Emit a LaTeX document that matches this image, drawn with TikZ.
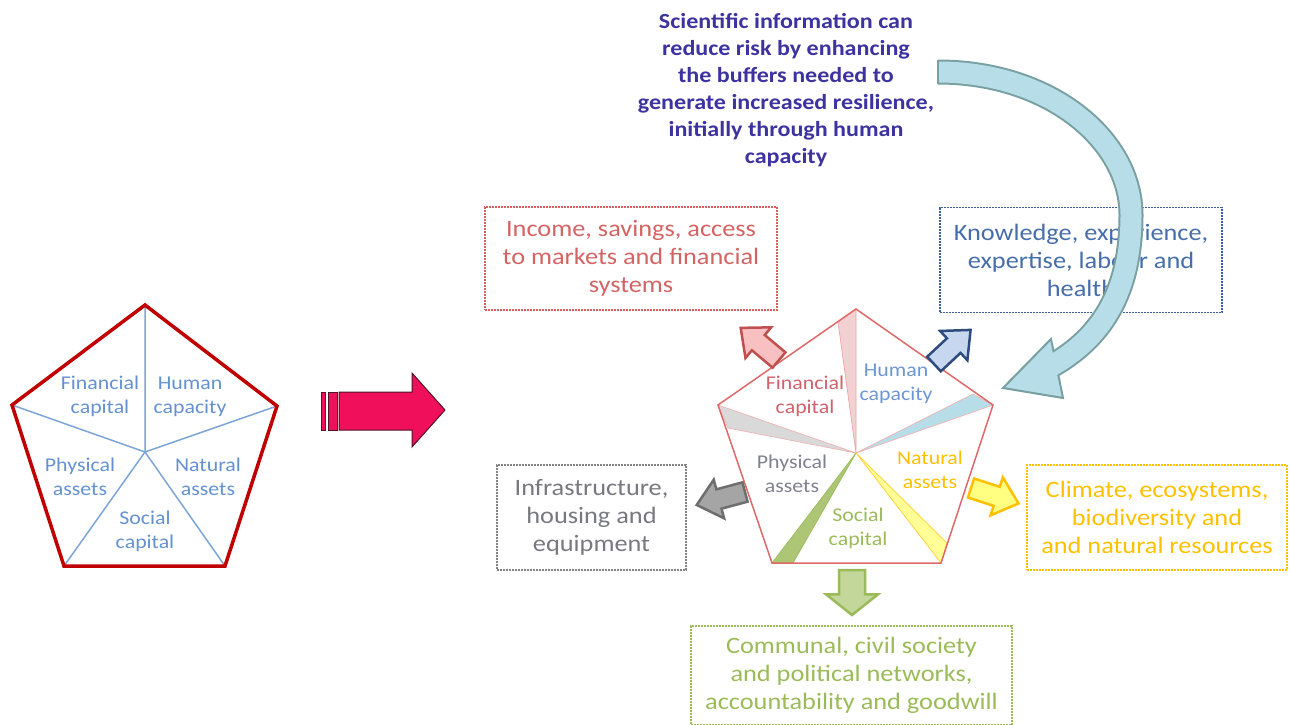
\documentclass[tikz,border=0pt]{standalone}
\usepackage{fontspec}
\setmainfont{Carlito}[FakeStretch=1.12]
\definecolor{leftred}{RGB}{192,0,0}
\definecolor{leftblue}{RGB}{125,165,215}
\definecolor{lefttext}{RGB}{100,145,210}
\definecolor{pentred}{RGB}{222,105,105}
\definecolor{fintext}{RGB}{208,98,108}
\definecolor{humtext}{RGB}{110,150,210}
\definecolor{phytext}{RGB}{128,128,145}
\definecolor{nattext}{RGB}{255,192,0}
\definecolor{soctext}{RGB}{155,187,89}
\definecolor{redbox}{RGB}{215,95,95}
\definecolor{redtext}{RGB}{212,100,100}
\definecolor{bluebox}{RGB}{60,95,155}
\definecolor{bluetext}{RGB}{70,110,170}
\definecolor{greybox}{RGB}{130,130,130}
\definecolor{greytext}{RGB}{120,120,128}
\definecolor{topblue}{RGB}{60,50,160}
\definecolor{pinkfill}{RGB}{243,208,210}
\definecolor{cyanfill}{RGB}{183,222,232}
\definecolor{cyanedge}{RGB}{120,160,160}
\definecolor{greyfill}{RGB}{217,217,217}
\definecolor{greenfill}{RGB}{172,198,118}
\definecolor{yellowfill}{RGB}{255,255,150}
\definecolor{magenta1}{RGB}{240,15,90}
\definecolor{magentaedge}{RGB}{80,20,40}
\definecolor{arrredfill}{RGB}{248,192,192}
\definecolor{arrrededge}{RGB}{192,80,80}
\definecolor{arrbluefill}{RGB}{200,215,240}
\definecolor{arrblueedge}{RGB}{45,75,125}
\definecolor{arrgreyfill}{RGB}{165,165,165}
\definecolor{arrgreyedge}{RGB}{110,110,110}
\definecolor{arryelfill}{RGB}{255,255,130}
\definecolor{arrgreenfill}{RGB}{196,215,155}
\tikzset{
  lefttxt/.style={font=\fontsize{19.5}{24}\selectfont, align=center, inner sep=0pt},
  boxtxt/.style={font=\fontsize{23.5}{28}\selectfont, align=center, inner sep=0pt, line width=1.1pt, dash pattern=on 2pt off 1pt},
  pics/blockarr/.style={code={\draw[pic actions] (0,-10) -- (27,-10) -- (27,-20) -- (50,0) -- (27,20) -- (27,10) -- (0,10) -- cycle;}}
}
\begin{document}
\begin{tikzpicture}[x=1pt,y=-1pt]
\useasboundingbox (0,0) rectangle (1290,724);
% ---------- left pentagon
\coordinate (LT) at (145,305);
\coordinate (LUL) at (12,405);
\coordinate (LUR) at (277,406);
\coordinate (LLL) at (64,566);
\coordinate (LLR) at (225,566);
\coordinate (LC) at (145,452);
\draw[leftblue, line width=1.5pt] (LC) -- (LT) (LC) -- (LUL) (LC) -- (LUR) (LC) -- (LLL) (LC) -- (LLR);
\draw[leftred, line width=3.5pt, line join=miter] (LT) -- (LUR) -- (LLR) -- (LLL) -- (LUL) -- cycle;
\node[lefttxt, text=lefttext] (lfin) at (100,396.5) {Financial\\capital};
\node[lefttxt, text=lefttext] (lhum) at (190,397) {Human\\capacity};
\node[lefttxt, text=lefttext] (lphy) at (80,477) {Physical\\assets};
\node[lefttxt, text=lefttext] (lnat) at (208,477) {Natural\\assets};
\node[lefttxt, text=lefttext] (lsoc) at (145,531) {Social\\capital};
% ---------- big pink arrow
\draw[fill=magenta1, draw=magentaedge, line width=1pt] (321,392) rectangle (325.5,430);
\draw[fill=magenta1, draw=magentaedge, line width=1pt] (328,392) rectangle (337,430);
\draw[fill=magenta1, draw=magentaedge, line width=1pt, line join=miter]
  (339,392) -- (412,392) -- (412,373) -- (445,410) -- (412,447) -- (412,430) -- (339,430) -- cycle;
% ---------- top text
\node[font=\bfseries\fontsize{21.5}{27}\selectfont, text=topblue, align=center, inner sep=0pt] (sci) at (786,90.5)
  {Scientific information can\\reduce risk by enhancing\\the buffers needed to\\generate increased resilience,\\initially through human\\capacity};
% ---------- boxes
\node[boxtxt, draw=redbox, text=redtext, minimum width=292, minimum height=103] (fin) at (631,258.5)
  {Income, savings, access\\to markets and financial\\systems};
\node[boxtxt, draw=bluebox, text=bluetext, minimum width=282, minimum height=105] (hum) at (1081,260)
  {Knowledge, experience,\\expertise, labour and\\health};
\node[boxtxt, draw=greybox, text=greytext, minimum width=189, minimum height=105] (phy) at (591.5,517.5)
  {Infrastructure,\\housing and\\equipment};
\node[boxtxt, draw=nattext, text=nattext, minimum width=260, minimum height=105] (nat) at (1157,517.5)
  {Climate, ecosystems,\\biodiversity and\\and natural resources};
\node[boxtxt, draw=soctext, text=soctext, minimum width=321, minimum height=99] (soc) at (851.5,675.5)
  {Communal, civil society\\and political networks,\\accountability and goodwill};
% ---------- right pentagon
\coordinate (RT) at (856,309);
\coordinate (RUL) at (718,405);
\coordinate (RUR) at (993,405);
\coordinate (RLL) at (772,563);
\coordinate (RLR) at (941,563);
\coordinate (RC) at (856,453);
\coordinate (wp) at (838,322);
\coordinate (wb) at (973,394);
\coordinate (wg) at (728,428);
\coordinate (wgr) at (793,563);
\coordinate (wy) at (947,543);
\filldraw[fill=pinkfill, draw=pentred!60, line width=0.7pt] (RC) -- (RT) -- (wp) -- cycle;
\filldraw[fill=cyanfill, draw=pentred!50, line width=0.7pt] (RC) -- (wb) -- (RUR) -- cycle;
\filldraw[fill=greyfill, draw=pentred!50, line width=0.7pt] (RC) -- (RUL) -- (wg) -- cycle;
\filldraw[fill=greenfill, draw=soctext, line width=0.7pt] (RC) -- (RLL) -- (wgr) -- cycle;
\filldraw[fill=yellowfill, draw=nattext!80, line width=0.7pt] (RC) -- (wy) -- (RLR) -- cycle;
\draw[pentred, line width=1.5pt, line join=miter] (RT) -- (RUR) -- (RLR) -- (RLL) -- (RUL) -- cycle;
\node[lefttxt, text=fintext] (rfin) at (805,396) {Financial\\capital};
\node[lefttxt, text=humtext] (rhum) at (896,384) {Human\\capacity};
\node[lefttxt, text=phytext] (rphy) at (792,474) {Physical\\assets};
\node[lefttxt, text=nattext] (rnat) at (930,470) {Natural\\assets};
\node[lefttxt, text=soctext] (rsoc) at (858,528) {Social\\capital};
% ---------- small block arrows
\pic[draw=arrrededge, fill=arrredfill, line width=2.5pt, rotate=140] (afin) at (779,360) {blockarr};
\pic[draw=arrblueedge, fill=arrbluefill, line width=2.5pt, rotate=43] (ahum) at (934,364) {blockarr};
\pic[draw=arrgreyedge, fill=arrgreyfill, line width=2.5pt, rotate=195] (aphy) at (745,492) {blockarr};
\pic[draw=nattext, fill=arryelfill, line width=2.5pt, rotate=-18] (anat) at (971,488) {blockarr};
\pic[draw=soctext, fill=arrgreenfill, line width=2.5pt, rotate=-90, xscale=0.9, yscale=1.3] (asoc) at (852,570) {blockarr};
% ---------- big curved arrow
\coordinate (cs) at (938,72);
\coordinate (cm) at (1131,215);
\coordinate (ce) at (1040,372);
\coordinate (hb1) at (1051,339);
\coordinate (htip) at (1003,388);
\coordinate (hb2) at (1063,398);
\draw[cyanedge, line width=25pt] (cs) .. controls (1050,72) and (1131,140) .. (cm) .. controls (1131,300) and (1095,345) .. (ce);
\filldraw[fill=cyanfill, draw=cyanedge, line width=2pt, line join=miter] (hb1) -- (htip) -- (hb2) -- cycle;
\draw[cyanfill, line width=21pt] (cs) .. controls (1050,72) and (1131,140) .. (cm) .. controls (1131,300) and (1095,345) .. (ce);
\draw[cyanedge, line width=2pt] (938,60) -- (938,84);
\end{tikzpicture}
\end{document}
